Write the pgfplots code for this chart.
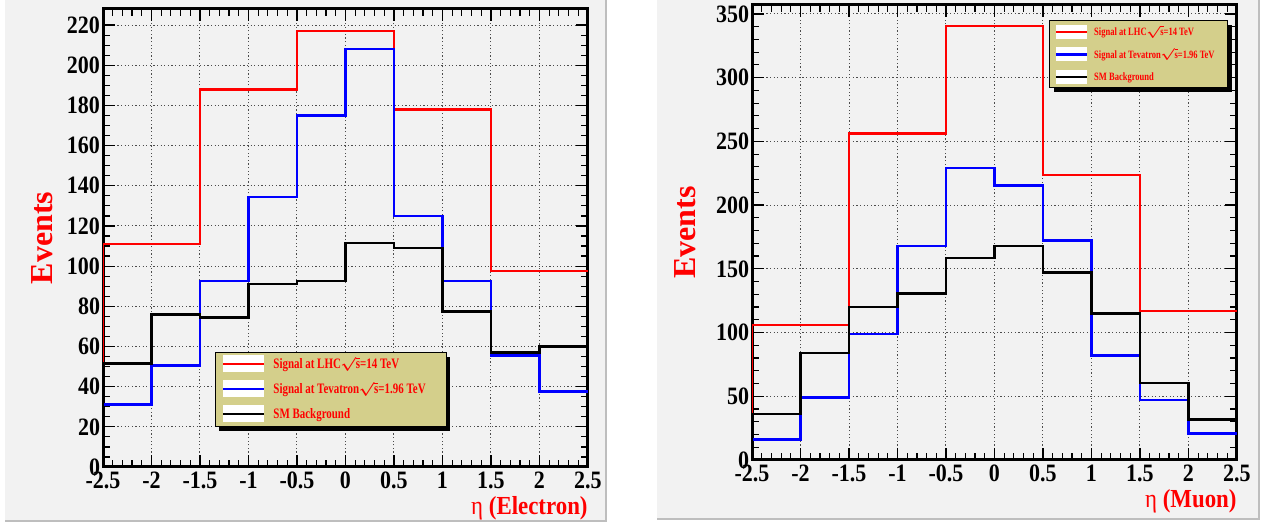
\documentclass[border=0pt]{standalone}
\usepackage{fontspec}
\setmainfont{Liberation Serif}
\newfontfamily\tickfont{Liberation Serif}[FakeStretch=0.88]
\newfontfamily\legfont{Liberation Serif}[FakeStretch=0.76]
\usepackage{pgfplots}
\pgfplotsset{compat=1.18}
\definecolor{canvas}{RGB}{242,242,242}
\definecolor{canvasedge}{RGB}{190,190,190}
\definecolor{legfill}{RGB}{212,207,139}
\definecolor{rootred}{RGB}{255,0,0}
\definecolor{rootblue}{RGB}{0,0,255}
\pgfplotsset{
  rootline/.style={const plot mark left, line width=1.3pt},
  rootaxis/.style={
    scale only axis, width=242.5pt,
    xmin=-2.5, xmax=2.5, ymin=0,
    xtick={-2.5,-2,-1.5,-1,-0.5,0,0.5,1,1.5,2,2.5},
    minor x tick num=4,
    tick pos=both, tick align=inside,
    major tick length=6pt, minor tick length=3.5pt,
    every tick/.append style={black, line width=0.6pt},
    axis line style={line width=1.5pt},
    grid=major,
    major grid style={black!70, line width=0.5pt, dash pattern=on 0.6pt off 1.2pt},
    /pgf/number format/assume math mode=true,
    ticklabel style={font=\fontsize{12.5}{14}\tickfont\bfseries},
    xticklabel style={inner sep=0pt, yshift=-2.3pt},
    yticklabel style={inner sep=0pt, xshift=-1.3pt},
    every axis x label/.style={at={(rel axis cs:1,0)}, anchor=east, yshift=-20.5pt,
      font=\fontsize{13}{15}\tickfont\bfseries, text=rootred, inner sep=0pt},
  },
}
% legend row: #1 = y centre, #2 = colour, #3 = text
\newcommand{\legrowA}[3]{%
  \fill[white] (4pt,#1-4.25pt) rectangle (24.5pt,#1+4.25pt);
  \draw[#2, line width=1.3pt] (4pt,#1) -- (24.5pt,#1);
  \node[anchor=base west, inner sep=0pt, text=rootred,
        font=\fontsize{7.2}{8}\legfont\bfseries] at (29pt,#1-2.5pt) {#3};}
\newcommand{\legrowB}[3]{%
  \fill[white] (3pt,#1-3.5pt) rectangle (18.5pt,#1+3.5pt);
  \draw[#2, line width=1.3pt] (3pt,#1) -- (18.5pt,#1);
  \node[anchor=base west, inner sep=0pt, text=rootred,
        font=\fontsize{5.6}{6.5}\legfont\bfseries] at (22pt,#1-2pt) {#3};}
\newcommand{\sqs}{{\boldmath$\sqrt{\mbox{s}}$}}
\begin{document}
\begin{tikzpicture}
\useasboundingbox (0,0) rectangle (632.5pt,265pt);
\fill[white] (0,0) rectangle (632.5pt,265pt);
\fill[canvas] (2.5pt,4pt) rectangle (303.5pt,265pt);
\draw[canvasedge, line width=1pt] (2.5pt,4.5pt) -- (303pt,4.5pt) -- (303pt,265pt);
\fill[canvas] (328.5pt,5pt) rectangle (630pt,265pt);
\draw[canvasedge, line width=1pt] (328.5pt,5.5pt) -- (629.5pt,5.5pt) -- (629.5pt,265pt);

% ---------------- Electron ----------------
\begin{axis}[rootaxis,
  at={(51.5pt,31.5pt)}, anchor=south west,
  height=229pt, ymax=228,
  ytick={0,20,...,220}, minor y tick num=3,
  xlabel={{\mdseries η} (Electron)},
  ylabel={Events},
  every axis y label/.style={at={(rel axis cs:-0.126,0.5)}, rotate=90, anchor=center,
    font=\fontsize{16}{18}\selectfont\bfseries, text=rootred},
]
\addplot[rootline, rootred] coordinates {
 (-2.5,0) (-2.5,111) (-2,111) (-1.5,188) (-1,188) (-0.5,217) (0,217)
 (0.5,178) (1,178) (1.5,97.5) (2,97.5) (2.5,97.5)};
\addplot[rootline, rootblue] coordinates {
 (-2.5,0) (-2.5,31) (-2,50.5) (-1.5,92.5) (-1,134.5) (-0.5,175) (0,208)
 (0.5,125) (1,92.5) (1.5,55.5) (2,37.5) (2.5,37.5)};
\addplot[rootline, black] coordinates {
 (-2.5,0) (-2.5,51.5) (-2,76) (-1.5,74.5) (-1,91) (-0.5,92.5) (0,111.5)
 (0.5,109) (1,77.5) (1.5,57) (2,60) (2.5,60)};
\coordinate (legE) at (rel axis cs:0.231,0.249);
\end{axis}
\begin{scope}[shift={(legE)}]
  \fill[black] (2pt,-2pt) rectangle (117.5pt,-39pt);
  \filldraw[fill=legfill, draw=black, line width=0.5pt] (0,0) rectangle (115.5pt,-37pt);
  \legrowA{-5.5pt}{rootred}{Signal at LHC\sqs=14 TeV}
  \legrowA{-18pt}{rootblue}{Signal at Tevatron\sqs=1.96 TeV}
  \legrowA{-30.5pt}{black}{SM Background}
\end{scope}

% ---------------- Muon ----------------
\begin{axis}[rootaxis,
  at={(376pt,35pt)}, anchor=south west,
  height=227.5pt, ymax=357,
  ytick={0,50,...,350}, minor y tick num=4,
  xlabel={{\mdseries η} (Muon)},
  ylabel={Events},
  every axis y label/.style={at={(rel axis cs:-0.138,0.5)}, rotate=90, anchor=center,
    font=\fontsize{16}{18}\selectfont\bfseries, text=rootred},
]
\addplot[rootline, rootred] coordinates {
 (-2.5,0) (-2.5,106) (-2,106) (-1.5,256) (-1,256) (-0.5,340.5) (0,340.5)
 (0.5,223.5) (1,223.5) (1.5,117) (2,117) (2.5,117)};
\addplot[rootline, rootblue] coordinates {
 (-2.5,0) (-2.5,16) (-2,49) (-1.5,99) (-1,168) (-0.5,229) (0,215.5)
 (0.5,172) (1,82) (1.5,47) (2,21) (2.5,21)};
\addplot[rootline, black] coordinates {
 (-2.5,0) (-2.5,36) (-2,84) (-1.5,120) (-1,130.5) (-0.5,158.5) (0,168)
 (0.5,147) (1,115) (1.5,60.5) (2,32) (2.5,32)};
\coordinate (legM) at (rel axis cs:0.614,0.965);
\end{axis}
\begin{scope}[shift={(legM)}]
  \fill[black] (2pt,-2pt) rectangle (91pt,-35.5pt);
  \filldraw[fill=legfill, draw=black, line width=0.5pt] (0,0) rectangle (89pt,-33.5pt);
  \legrowB{-5.5pt}{rootred}{Signal at LHC\sqs=14 TeV}
  \legrowB{-16.75pt}{rootblue}{Signal at Tevatron\sqs=1.96 TeV}
  \legrowB{-28pt}{black}{SM Background}
\end{scope}
\end{tikzpicture}
\end{document}
